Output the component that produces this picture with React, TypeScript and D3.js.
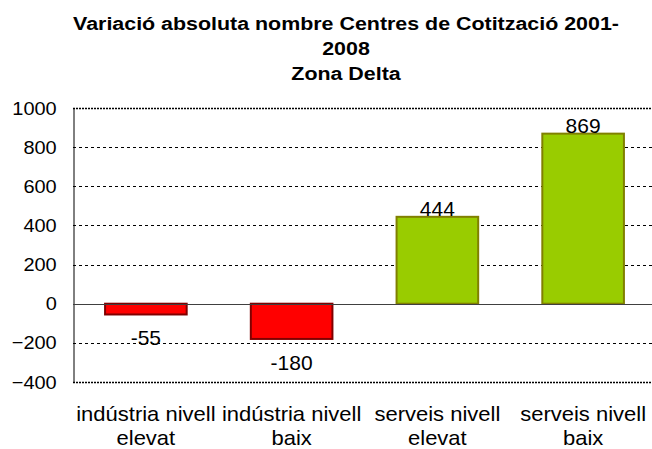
import { useEffect, useRef } from 'react';
import * as d3 from 'd3';

const categories = [
  ['indústria nivell', 'elevat'],
  ['indústria nivell', 'baix'],
  ['serveis nivell', 'elevat'],
  ['serveis nivell', 'baix'],
];
const values = [-55, -180, 444, 869];
const yTicks = [-400, -200, 0, 200, 400, 600, 800, 1000];
const titleLines = ['Variació absoluta nombre Centres de Cotització 2001-', '2008', 'Zona Delta'];

export default function App() {
  const ref = useRef<SVGSVGElement>(null);

  useEffect(() => {
    if (!ref.current) return;
    const svg = d3.select(ref.current);
    svg.selectAll('*').remove();

    const width = 652;
    const height = 449;
    const margin = { top: 108, right: -4, bottom: 66, left: 73 };
    const font = 'Arial, "Liberation Sans", sans-serif';
    // the original picture is a bit stretched sideways, so text is widened a little
    const stretch = 1.1;

    svg.attr('width', width).attr('height', height).style('display', 'block');

    const x = d3.scaleBand<number>()
      .domain(d3.range(values.length))
      .range([margin.left, width - margin.right])
      .paddingInner(0.44)
      .paddingOuter(0.22);

    const y = d3.scaleLinear()
      .domain([-400, 1000])
      .range([height - margin.bottom - 1, margin.top]);

    // Title
    titleLines.forEach((line, i) => {
      svg.append('text')
        .attr('transform', `translate(346,${30 + i * 25}) scale(1.19,1)`)
        .attr('text-anchor', 'middle')
        .attr('font-family', font)
        .attr('font-weight', 'bold')
        .attr('font-size', 18)
        .attr('fill', '#000')
        .text(line);
    });

    // Grid lines
    svg.append('g')
      .selectAll('line')
      .data(yTicks.filter(t => t !== 0))
      .join('line')
      .attr('x1', margin.left)
      .attr('x2', width)
      .attr('y1', d => Math.round(y(d)) + 0.5)
      .attr('y2', d => Math.round(y(d)) + 0.5)
      .attr('stroke', '#000')
      .attr('stroke-width', d => (d === 1000 || d === -400 ? 1.5 : 1))
      .attr('stroke-dasharray', d => (d === 1000 || d === -400 ? '2,1' : '3,3'));

    // Y axis
    const yAxis = svg.append('g')
      .attr('transform', `translate(${margin.left + 0.5},0)`)
      .call(d3.axisLeft(y).tickValues(yTicks).tickSize(0).tickPadding(16).tickFormat(d3.format('d')));
    yAxis.select('.domain').attr('stroke', '#000');
    yAxis.selectAll('text')
      .attr('font-family', font)
      .attr('font-size', 19)
      .attr('fill', '#000')
      .attr('transform', 'scale(1.05,1)');

    // Bars
    svg.append('g')
      .selectAll('rect')
      .data(values)
      .join('rect')
      .attr('x', (_, i) => x(i)!)
      .attr('width', x.bandwidth())
      .attr('y', d => y(Math.max(0, d)))
      .attr('height', d => Math.abs(y(d) - y(0)))
      .attr('fill', d => (d < 0 ? '#FF0000' : '#99CC00'))
      .attr('stroke', d => (d < 0 ? '#800000' : '#808000'))
      .attr('stroke-width', 2);

    // Zero line
    svg.append('line')
      .attr('x1', margin.left)
      .attr('x2', width)
      .attr('y1', Math.round(y(0)) + 0.5)
      .attr('y2', Math.round(y(0)) + 0.5)
      .attr('stroke', '#404040')
      .attr('stroke-width', 1);

    // Value labels
    svg.append('g')
      .selectAll('text')
      .data(values)
      .join('text')
      .attr('transform', (d, i) =>
        `translate(${x(i)! + x.bandwidth() / 2},${d < 0 ? y(d) + 31 : y(d) - 1}) scale(1.05,1)`)
      .attr('text-anchor', 'middle')
      .attr('font-family', font)
      .attr('font-size', 20)
      .attr('fill', '#000')
      .text(d => d);

    // Category labels
    const cat = svg.append('g');
    categories.forEach((lines, i) => {
      lines.forEach((line, j) => {
        cat.append('text')
          .attr('transform', `translate(${x(i)! + x.bandwidth() / 2},${421 + j * 24}) scale(${stretch},1)`)
          .attr('text-anchor', 'middle')
          .attr('font-family', font)
          .attr('font-size', 20)
          .attr('fill', '#000')
          .text(line);
      });
    });
  }, []);

  return <svg ref={ref}></svg>;
}

// keep body margin from shifting the chart
if (typeof document !== 'undefined') {
  document.body.style.margin = '0';
}
